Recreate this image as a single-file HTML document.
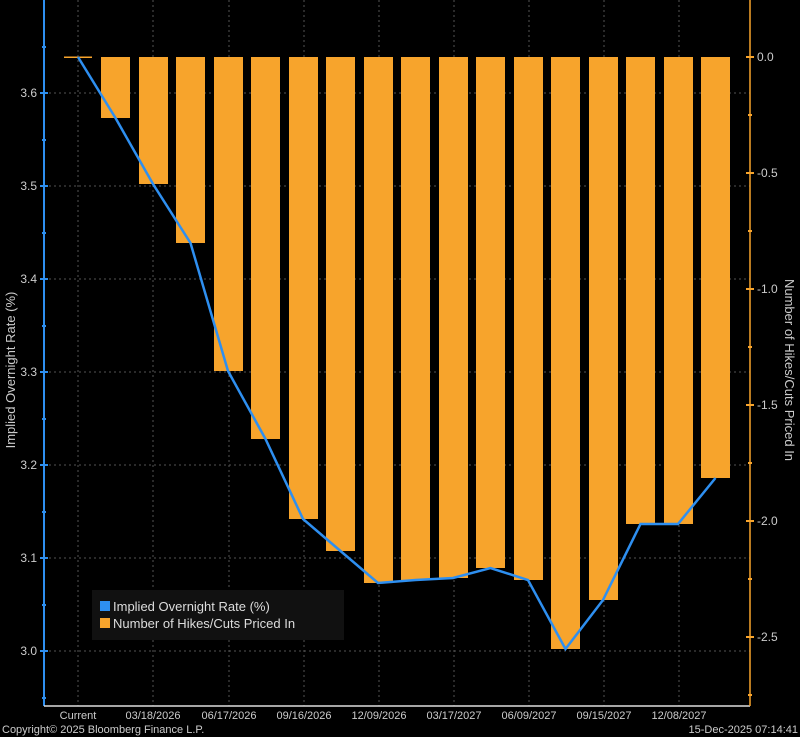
<!DOCTYPE html>
<html><head><style>
body{margin:0;background:#000;}
svg{display:block;font-family:"Liberation Sans",sans-serif;}
</style></head><body>
<svg width="800" height="737" viewBox="0 0 800 737">
<rect width="800" height="737" fill="#000"/>
<g stroke="#555" stroke-width="1" stroke-dasharray="2,3">
<line x1="44" x2="750" y1="93" y2="93"/><line x1="44" x2="750" y1="186" y2="186"/>
<line x1="44" x2="750" y1="279" y2="279"/><line x1="44" x2="750" y1="372" y2="372"/>
<line x1="44" x2="750" y1="465" y2="465"/><line x1="44" x2="750" y1="558" y2="558"/>
<line x1="44" x2="750" y1="651" y2="651"/>
<line x1="78" x2="78" y1="0" y2="706"/><line x1="153" x2="153" y1="0" y2="706"/>
<line x1="229" x2="229" y1="0" y2="706"/><line x1="304" x2="304" y1="0" y2="706"/>
<line x1="379" x2="379" y1="0" y2="706"/><line x1="454" x2="454" y1="0" y2="706"/>
<line x1="529" x2="529" y1="0" y2="706"/><line x1="604" x2="604" y1="0" y2="706"/>
<line x1="679" x2="679" y1="0" y2="706"/>
</g>
<g fill="#f7a42c">
<rect x="64" y="56.5" width="28" height="1.5"/>
<rect x="101" y="57" width="29" height="61"/>
<rect x="139" y="57" width="29" height="127"/>
<rect x="176" y="57" width="29" height="186"/>
<rect x="214" y="57" width="29" height="314"/>
<rect x="251" y="57" width="29" height="382"/>
<rect x="289" y="57" width="29" height="462"/>
<rect x="326" y="57" width="29" height="494"/>
<rect x="364" y="57" width="29" height="526"/>
<rect x="401" y="57" width="29" height="523"/>
<rect x="439" y="57" width="29" height="521"/>
<rect x="476" y="57" width="29" height="511"/>
<rect x="514" y="57" width="29" height="523"/>
<rect x="551" y="57" width="29" height="592"/>
<rect x="589" y="57" width="29" height="543"/>
<rect x="626" y="57" width="29" height="467"/>
<rect x="664" y="57" width="29" height="467"/>
<rect x="701" y="57" width="29" height="421"/>
</g>
<polyline fill="none" stroke="#2e8ff0" stroke-width="2.5" points="78,57 115.5,118 153,184 190.5,243 228,371 265.5,439 303,519 340.5,551 378,583 415.5,580 453,578 490.5,568 528,580 565.5,649 603,600 640.5,524 678,524 715.5,478"/>
<!-- axes -->
<line x1="44" x2="44" y1="0" y2="706" stroke="#2e8ff0" stroke-width="2"/>
<line x1="44" x2="750" y1="706" y2="706" stroke="#ddd" stroke-width="1.5"/>
<line x1="750" x2="750" y1="0" y2="706" stroke="#f7a42c" stroke-width="1.5"/>
<g stroke="#2e8ff0" stroke-width="2">
<line x1="40" x2="48" y1="93" y2="93"/><line x1="40" x2="48" y1="186" y2="186"/><line x1="40" x2="48" y1="279" y2="279"/><line x1="40" x2="48" y1="372" y2="372"/><line x1="40" x2="48" y1="465" y2="465"/><line x1="40" x2="48" y1="558" y2="558"/><line x1="40" x2="48" y1="651" y2="651"/>
<line x1="42" x2="46" y1="47" y2="47"/><line x1="42" x2="46" y1="140" y2="140"/><line x1="42" x2="46" y1="233" y2="233"/><line x1="42" x2="46" y1="326" y2="326"/><line x1="42" x2="46" y1="419" y2="419"/><line x1="42" x2="46" y1="512" y2="512"/><line x1="42" x2="46" y1="605" y2="605"/><line x1="42" x2="46" y1="698" y2="698"/>
</g>
<g stroke="#f7a42c" stroke-width="2">
<line x1="746" x2="754" y1="57" y2="57"/><line x1="746" x2="754" y1="173" y2="173"/><line x1="746" x2="754" y1="289" y2="289"/><line x1="746" x2="754" y1="405" y2="405"/><line x1="746" x2="754" y1="521" y2="521"/><line x1="746" x2="754" y1="637" y2="637"/>
<line x1="748" x2="752" y1="115" y2="115"/><line x1="748" x2="752" y1="231" y2="231"/><line x1="748" x2="752" y1="347" y2="347"/><line x1="748" x2="752" y1="463" y2="463"/><line x1="748" x2="752" y1="579" y2="579"/><line x1="748" x2="752" y1="695" y2="695"/>
</g>
<g fill="#ccc" font-size="12" text-anchor="end">
<text x="37" y="97">3.6</text><text x="37" y="190">3.5</text><text x="37" y="283">3.4</text><text x="37" y="376">3.3</text><text x="37" y="469">3.2</text><text x="37" y="562">3.1</text><text x="37" y="655">3.0</text>
</g>
<g fill="#ccc" font-size="12">
<text x="757" y="61">0.0</text><text x="757" y="177">-0.5</text><text x="757" y="293">-1.0</text><text x="757" y="409">-1.5</text><text x="757" y="525">-2.0</text><text x="757" y="641">-2.5</text>
</g>
<g fill="#ccc" font-size="11" text-anchor="middle">
<text x="78" y="719">Current</text><text x="153" y="719">03/18/2026</text><text x="229" y="719">06/17/2026</text><text x="304" y="719">09/16/2026</text><text x="379" y="719">12/09/2026</text><text x="454" y="719">03/17/2027</text><text x="529" y="719">06/09/2027</text><text x="604" y="719">09/15/2027</text><text x="679" y="719">12/08/2027</text>
</g>
<text x="2" y="733" fill="#ccc" font-size="11">Copyright© 2025 Bloomberg Finance L.P.</text>
<text x="798" y="733" fill="#ccc" font-size="11" text-anchor="end">15-Dec-2025 07:14:41</text>
<text transform="translate(15,370) rotate(-90)" fill="#ccc" font-size="13" text-anchor="middle">Implied Overnight Rate (%)</text>
<text transform="translate(785,370) rotate(90)" fill="#ccc" font-size="13" text-anchor="middle">Number of Hikes/Cuts Priced In</text>
<rect x="92" y="590" width="252" height="50" fill="#111"/>
<rect x="100" y="601" width="10" height="10" fill="#2e8ff0"/>
<rect x="100" y="618" width="10" height="10" fill="#f7a42c"/>
<text x="113" y="611" fill="#ddd" font-size="13">Implied Overnight Rate (%)</text>
<text x="113" y="628" fill="#ddd" font-size="13">Number of Hikes/Cuts Priced In</text>
</svg>
</body></html>
